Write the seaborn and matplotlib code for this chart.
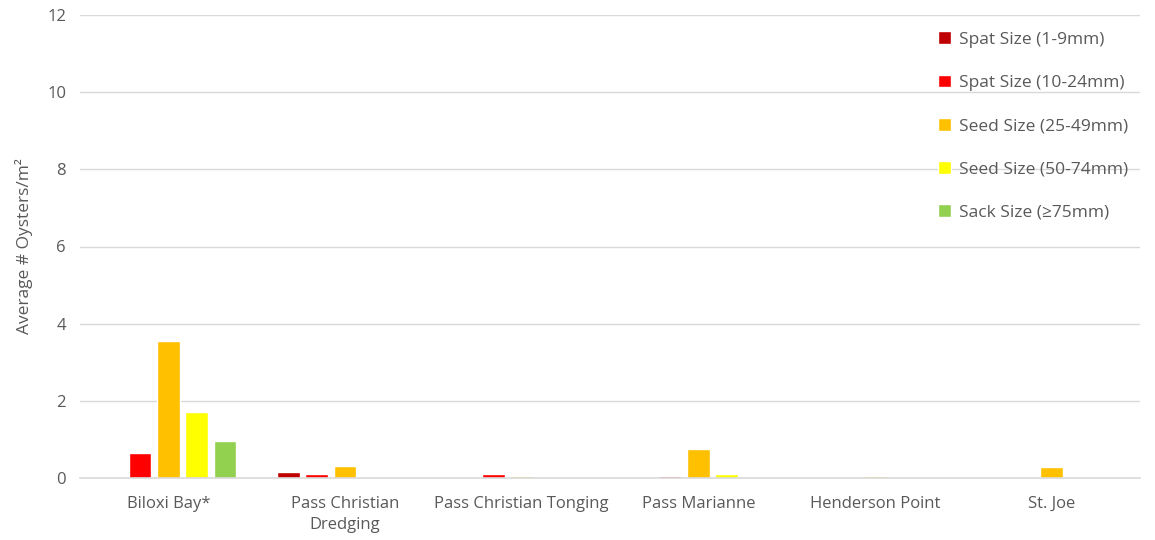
import pandas as pd
import matplotlib
matplotlib.use("Agg")
import matplotlib.pyplot as plt
import seaborn as sns

# Dati
sites = ["Biloxi Bay*", "Pass Christian\nDredging", "Pass Christian Tonging",
         "Pass Marianne", "Henderson Point", "St. Joe"]
size_classes = ["Spat Size (1-9mm)", "Spat Size (10-24mm)", "Seed Size (25-49mm)",
                "Seed Size (50-74mm)", "Sack Size (≥75mm)"]
spat_1_9 = [0.0, 0.16, 0.0, 0.0, 0.0, 0.0]
spat_10_24 = [0.65, 0.10, 0.10, 0.05, 0.0, 0.0]
seed_25_49 = [3.56, 0.31, 0.04, 0.74, 0.04, 0.29]
seed_50_74 = [1.71, 0.0, 0.0, 0.10, 0.0, 0.0]
sack_75 = [0.96, 0.0, 0.0, 0.0, 0.0, 0.0]
colors = ["#C00000", "#FF0000", "#FFC000", "#FFFF00", "#92D050"]

series = [spat_1_9, spat_10_24, seed_25_49, seed_50_74, sack_75]
rows = []
for cls, vals in zip(size_classes, series):
    for site, v in zip(sites, vals):
        rows.append({"Site": site, "Size": cls, "Value": v})
df = pd.DataFrame(rows)

sns.set_theme(style="white")
plt.rcParams["font.family"] = ["Open Sans", "DejaVu Sans"]
text_col = "#595959"

fig = plt.figure(figsize=(11.55, 5.4), dpi=100)
ax = fig.add_axes([80 / 1155, 62 / 540, 1060 / 1155, 463 / 540])

sns.barplot(data=df, x="Site", y="Value", hue="Size", order=sites,
            hue_order=size_classes, palette=colors, width=0.8, gap=0.2,
            saturation=1, ax=ax)

ax.set_ylim(0, 12)
ax.set_yticks(range(0, 13, 2))
ax.yaxis.grid(True, color="#D9D9D9", linewidth=1)
ax.set_axisbelow(True)
for s in ["top", "right", "left"]:
    ax.spines[s].set_visible(False)
ax.spines["bottom"].set_color("#D9D9D9")
ax.spines["bottom"].set_linewidth(1.2)
ax.tick_params(axis="y", length=0, colors=text_col, labelsize=12, pad=10)
ax.tick_params(axis="x", length=0, colors=text_col, labelsize=12, pad=13)
for lbl in ax.get_xticklabels():
    lbl.set_linespacing(1.45)
ax.set_xlabel("")
ax.set_ylabel("Average # Oysters/m²", color=text_col, fontsize=12.5, labelpad=10)

leg = ax.legend(loc="upper right", bbox_to_anchor=(0.995, 0.98), frameon=False,
                fontsize=12.5, labelspacing=1.55, handlelength=0.75, handleheight=0.75,
                handletextpad=0.45, borderaxespad=0.0)
for t in leg.get_texts():
    t.set_color(text_col)

fig.savefig("out.png", dpi=100, facecolor="white")
